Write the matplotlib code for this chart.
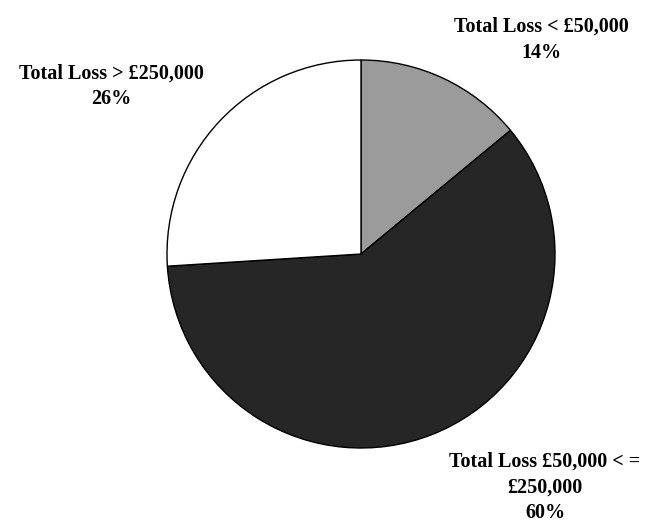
import matplotlib
matplotlib.use("Agg")
import matplotlib.pyplot as plt

# slice data, clockwise from 12 o'clock
labels = ["Total Loss < £50,000", "Total Loss £50,000 < =\n£250,000", "Total Loss > £250,000"]
shares = [14, 60, 26]
colors = ["#9b9b9b", "#262626", "#ffffff"]

W, H = 648, 527
fig = plt.figure(figsize=(W / 100, H / 100), dpi=100, facecolor="white")

# axes box sized to the pie circle (pixels: left 167, top 60, diameter 388)
cx, cy, r = 361, 254, 194
ax = fig.add_axes([(cx - r) / W, (H - cy - r) / H, 2 * r / W, 2 * r / H])
ax.pie(shares, colors=colors, startangle=90, counterclock=False,
       wedgeprops=dict(edgecolor="black", linewidth=1.0))
ax.set_aspect("equal")
ax.set_xlim(-1.0, 1.0)
ax.set_ylim(-1.0, 1.0)
ax.axis("off")

# label anchors in pixels: text centre x, first baseline y
label_xy = [(541, 32), (545, 467), (111, 79)]
line_step = 25.5
font = dict(family="Liberation Serif", weight="bold", fontsize=14.5)
for lab, s, (px, py) in zip(labels, shares, label_xy):
    for i, line in enumerate(f"{lab}\n{s}%".split("\n")):
        fig.text(px / W, 1 - (py + i * line_step) / H, line,
                 ha="center", va="baseline", **font)

fig.savefig("out.png", dpi=100, facecolor="white")
